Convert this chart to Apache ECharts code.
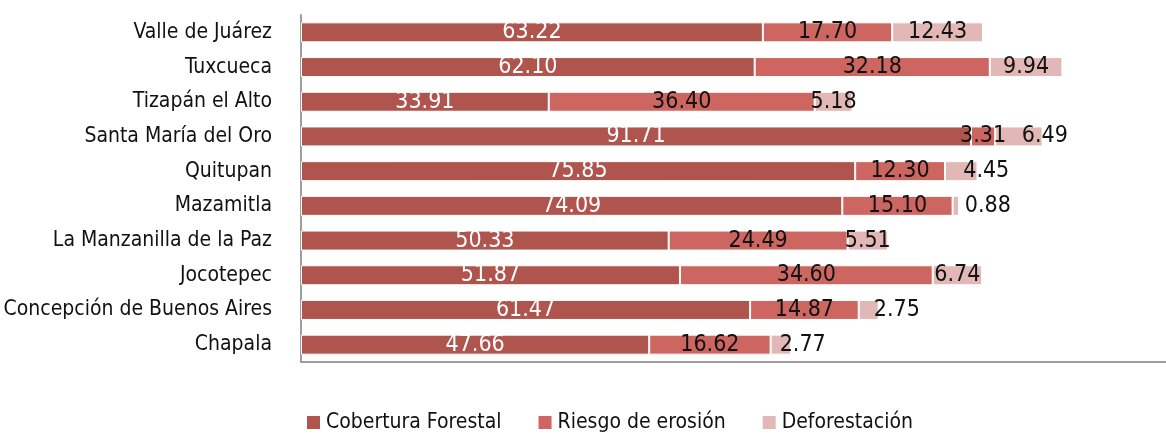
<!DOCTYPE html>
<html>
<head>
<meta charset="utf-8">
<script src="https://cdn.jsdelivr.net/npm/echarts@6/dist/echarts.min.js"></script>
<style>
  html, body { margin: 0; padding: 0; background: #fff; }
  #chart { width: 1166px; height: 434px; }
</style>
</head>
<body>
<div id="chart"></div>
<script>
// municipios, de arriba hacia abajo
const municipios = ['Valle de Juárez', 'Tuxcueca', 'Tizapán el Alto', 'Santa María del Oro', 'Quitupan',
  'Mazamitla', 'La Manzanilla de la Paz', 'Jocotepec', 'Concepción de Buenos Aires', 'Chapala']
const cobertura = [63.22, 62.10, 33.91, 91.71, 75.85, 74.09, 50.33, 51.87, 61.47, 47.66]
const riesgo = [17.70, 32.18, 36.40, 3.31, 12.30, 15.10, 24.49, 34.60, 14.87, 16.62]
const deforestacion = [12.43, 9.94, 5.18, 6.49, 4.45, 0.88, 5.51, 6.74, 2.75, 2.77]

const FONT = "'Liberation Sans Narrow', 'Arial Narrow', 'DejaVu Sans Condensed', sans-serif"
// desplazamiento manual de etiquetas pequeñas (como en el original)
const nudgeDef = [0, 0, 0, 26, 25, 32, 0, 0, 28, 22]

const fmt = (p) => p.value.toFixed(2)

const chart = echarts.init(document.getElementById('chart'))
chart.setOption({
  animation: false,
  textStyle: { fontFamily: FONT },
  grid: { left: 301, right: 0, top: 15, bottom: 72, containLabel: false, outerBoundsMode: 'none' },
  legend: {
    left: 300,
    top: 407,
    itemWidth: 15,
    itemHeight: 15,
    itemGap: 35,
    icon: 'rect',
    textStyle: { fontFamily: FONT, fontSize: 21, color: '#111' },
    data: ['Cobertura Forestal', 'Riesgo de erosión', 'Deforestación']
  },
  xAxis: {
    type: 'value',
    min: 0,
    max: 118.4,
    axisLabel: { show: false },
    axisTick: { show: false },
    splitLine: { show: false },
    axisLine: { show: true, lineStyle: { color: '#9e9e9e', width: 2 } }
  },
  yAxis: {
    type: 'category',
    inverse: true,
    data: municipios,
    axisTick: { show: false },
    axisLine: { show: true, lineStyle: { color: '#9e9e9e', width: 2 } },
    axisLabel: { fontFamily: FONT, fontSize: 21, color: '#111', margin: 29 }
  },
  series: [
    {
      name: 'Cobertura Forestal',
      type: 'bar',
      stack: 'total',
      barWidth: 20,
      data: cobertura,
      itemStyle: { color: '#b0544e', borderColor: '#fff', borderWidth: 1 },
      label: { show: true, position: 'inside', formatter: fmt, color: '#fff', fontSize: 23, fontFamily: FONT }
    },
    {
      name: 'Riesgo de erosión',
      type: 'bar',
      stack: 'total',
      barWidth: 20,
      data: riesgo,
      itemStyle: { color: '#cd6660', borderColor: '#fff', borderWidth: 1 },
      label: { show: true, position: 'inside', formatter: fmt, color: '#111', fontSize: 23, fontFamily: FONT }
    },
    {
      name: 'Deforestación',
      type: 'bar',
      stack: 'total',
      barWidth: 20,
      data: deforestacion.map((v, i) => ({
        value: v,
        label: { offset: [nudgeDef[i], 0] }
      })),
      itemStyle: { color: '#e2b8b7', borderColor: '#fff', borderWidth: 1 },
      label: { show: true, position: 'inside', formatter: fmt, color: '#111', fontSize: 23, fontFamily: FONT }
    }
  ]
})
</script>
</body>
</html>
